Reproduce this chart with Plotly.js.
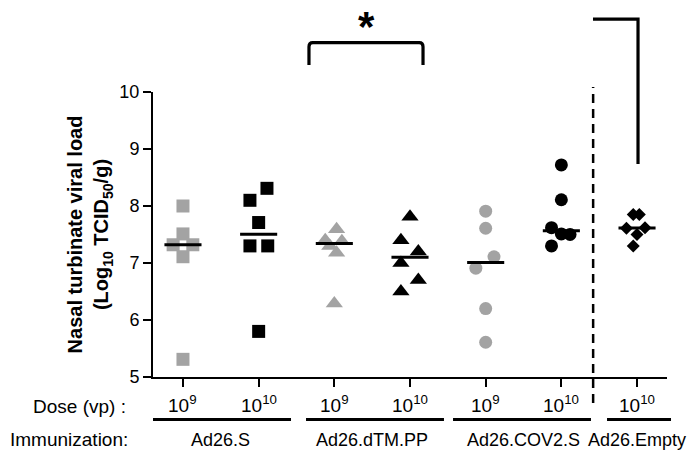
<!DOCTYPE html>
<html>
<head>
<meta charset="utf-8">
<script src="https://cdn.plot.ly/plotly-3.0.1.min.js"></script>
<style>
  html, body { margin: 0; padding: 0; background: #ffffff; }
  #chart { width: 693px; height: 456px; }
</style>
</head>
<body>
<div id="chart"></div>
<script>
// Study groups along the x axis (vaccine + dose)
const categories = [
  'Ad26.S 1e9', 'Ad26.S 1e10',
  'Ad26.dTM.PP 1e9', 'Ad26.dTM.PP 1e10',
  'Ad26.COV2.S 1e9', 'Ad26.COV2.S 1e10',
  'Ad26.Empty 1e10'
];
const doseLabels = [
  '10<sup>9</sup>', '10<sup>10</sup>',
  '10<sup>9</sup>', '10<sup>10</sup>',
  '10<sup>9</sup>', '10<sup>10</sup>',
  '10<sup>10</sup>'
];
const immunizations = ['Ad26.S', 'Ad26.dTM.PP', 'Ad26.COV2.S', 'Ad26.Empty'];
const immunizationMembers = [[0, 1], [2, 3], [4, 5], [6]];
const yTicks = [5, 6, 7, 8, 9, 10];

// Nasal turbinate viral load per animal, log10 TCID50/g
const adS_1e9      = [8.00, 7.51, 7.32, 7.32, 7.11, 5.31];
const adS_1e10     = [8.31, 8.10, 7.71, 7.30, 7.30, 5.80];
const adDTMPP_1e9  = [7.59, 7.40, 7.38, 7.30, 7.18, 6.29];
const adDTMPP_1e10 = [7.81, 7.40, 7.20, 7.00, 6.70, 6.50];
const adCOV2S_1e9  = [7.91, 7.61, 7.11, 6.91, 6.20, 5.61];
const adCOV2S_1e10 = [8.72, 8.11, 7.62, 7.51, 7.50, 7.30];
const adEmpty_1e10 = [7.85, 7.85, 7.61, 7.62, 7.50, 7.30];

const groupValues = [adS_1e9, adS_1e10, adDTMPP_1e9, adDTMPP_1e10, adCOV2S_1e9, adCOV2S_1e10, adEmpty_1e10];

// Horizontal spread of overlapping points (category units)
const spread = [
  [0, 0, -0.13, 0.13, 0, 0],
  [0.11, -0.115, 0, -0.115, 0.12, 0],
  [0.03, -0.12, 0.10, -0.06, 0.03, 0],
  [0, -0.12, 0.11, -0.12, 0.11, -0.12],
  [0, 0, 0.11, -0.13, 0, 0],
  [0, 0, -0.13, 0, 0.115, -0.13],
  [-0.05, 0.03, -0.14, 0.105, 0, -0.05]
];

const GRAY = '#a3a3a3';
const BLACK = '#000000';
const symbols = ['square', 'square', 'triangle-up', 'triangle-up', 'circle', 'circle', 'diamond'];
const colors  = [GRAY, BLACK, GRAY, BLACK, GRAY, BLACK, BLACK];
const sizes   = [13, 13, 15, 15, 13, 13, 10];
const FONT = 'Liberation Sans, Arial, Helvetica, sans-serif';

function median(arr) {
  const s = arr.slice().sort((a, b) => a - b);
  const m = Math.floor(s.length / 2);
  return s.length % 2 ? s[m] : (s[m - 1] + s[m]) / 2;
}

const traces = [];
groupValues.forEach((vals, i) => {
  traces.push({
    type: 'scatter', mode: 'markers', name: categories[i],
    x: vals.map((v, k) => i + spread[i][k]),
    y: vals,
    marker: { symbol: symbols[i], color: colors[i], size: sizes[i], line: { width: 0 } },
    showlegend: false, hoverinfo: 'y'
  });
});
// Median bars
groupValues.forEach((vals, i) => {
  const m = median(vals);
  traces.push({
    type: 'scatter', mode: 'lines', name: categories[i] + ' median',
    x: [i - 0.245, i + 0.245], y: [m, m],
    line: { color: BLACK, width: 3 },
    showlegend: false, hoverinfo: 'skip'
  });
});

const annotations = [];
doseLabels.forEach((t, i) => {
  annotations.push({
    xref: 'x', yref: 'paper', x: i, y: -0.095, xanchor: 'center', yanchor: 'middle',
    text: t, showarrow: false, font: { family: FONT, size: 19, color: BLACK }
  });
});
immunizations.forEach((t, g) => {
  const mem = immunizationMembers[g];
  const cx = mem.reduce((a, b) => a + b, 0) / mem.length;
  annotations.push({
    xref: 'x', yref: 'paper', x: cx, y: -0.221, xanchor: 'center', yanchor: 'middle',
    text: t, showarrow: false, font: { family: FONT, size: 18, color: BLACK }
  });
});
annotations.push({
  xref: 'paper', yref: 'paper', x: -0.0486, y: -0.105, xanchor: 'right', yanchor: 'middle',
  text: 'Dose (vp) :', showarrow: false, font: { family: FONT, size: 19, color: BLACK }
});
annotations.push({
  xref: 'paper', yref: 'paper', x: -0.0447, y: -0.221, xanchor: 'right', yanchor: 'middle',
  text: 'Immunization:', showarrow: false, font: { family: FONT, size: 19, color: BLACK }
});
// Significance marker
annotations.push({
  xref: 'x', yref: 'paper', x: 2.43, y: 1.23, xanchor: 'center', yanchor: 'middle',
  text: '*', showarrow: false, font: { family: FONT, size: 42, color: BLACK, weight: 'bold' }
});

// Rounded significance bracket between the two Ad26.dTM.PP groups
const bx1 = 1.665, bx2 = 3.172, bTop = 1.173, bBot = 1.095, rx = 0.05, ry = 0.014;
const bracketPath =
  `M ${bx1},${bBot} L ${bx1},${bTop - ry} Q ${bx1},${bTop} ${bx1 + rx},${bTop} ` +
  `L ${bx2 - rx},${bTop} Q ${bx2},${bTop} ${bx2},${bTop - ry} L ${bx2},${bBot}`;

const shapes = [
  // group underlines
  { type: 'line', xref: 'paper', yref: 'paper', x0: 0.0, x1: 0.2685, y0: -0.149, y1: -0.149, line: { color: BLACK, width: 3 } },
  { type: 'line', xref: 'paper', yref: 'paper', x0: 0.2977, x1: 0.5661, y0: -0.149, y1: -0.149, line: { color: BLACK, width: 3 } },
  { type: 'line', xref: 'paper', yref: 'paper', x0: 0.5837, x1: 0.8521, y0: -0.149, y1: -0.149, line: { color: BLACK, width: 3 } },
  { type: 'line', xref: 'paper', yref: 'paper', x0: 0.8833, x1: 1.0078, y0: -0.149, y1: -0.149, line: { color: BLACK, width: 3 } },
  // control separator
  { type: 'line', xref: 'x', yref: 'paper', x0: 5.42, x1: 5.42, y0: -0.091, y1: 1.0175, line: { color: BLACK, width: 2.5, dash: '9px,6px' } },
  { type: 'path', xref: 'x', yref: 'paper', path: bracketPath, line: { color: BLACK, width: 3.2 } },
  { type: 'path', xref: 'x', yref: 'paper', path: 'M 5.418,1.256 L 6.013,1.256 L 6.013,0.747', line: { color: BLACK, width: 3.2 } }
];

const layout = {
  width: 693, height: 456,
  margin: { l: 153, r: 26, t: 92, b: 79, pad: 0 },
  paper_bgcolor: '#ffffff', plot_bgcolor: '#ffffff',
  font: { family: FONT, size: 18, color: BLACK },
  showlegend: false,
  xaxis: {
    type: 'linear', range: [-0.396, 6.396],
    tickvals: categories.map((c, i) => i), showticklabels: false,
    ticks: 'outside', ticklen: 8, tickwidth: 2, tickcolor: BLACK,
    showline: true, linewidth: 2, linecolor: BLACK,
    showgrid: false, zeroline: false, fixedrange: true
  },
  yaxis: {
    range: [5, 10], tickvals: yTicks, ticktext: yTicks.map(String),
    ticks: 'outside', ticklen: 8, tickwidth: 2, tickcolor: BLACK,
    tickfont: { family: FONT, size: 18, color: BLACK },
    showline: true, linewidth: 2, linecolor: BLACK,
    showgrid: false, zeroline: false, fixedrange: true,
    title: {
      text: 'Nasal turbinate viral load<br>(Log<sub>10</sub> TCID<sub>50</sub>/g)',
      font: { family: FONT, size: 20, color: BLACK, weight: 'bold' },
      standoff: 5
    }
  },
  annotations: annotations,
  shapes: shapes
};

Plotly.newPlot('chart', traces, layout, { displayModeBar: false, staticPlot: true });
</script>
</body>
</html>
